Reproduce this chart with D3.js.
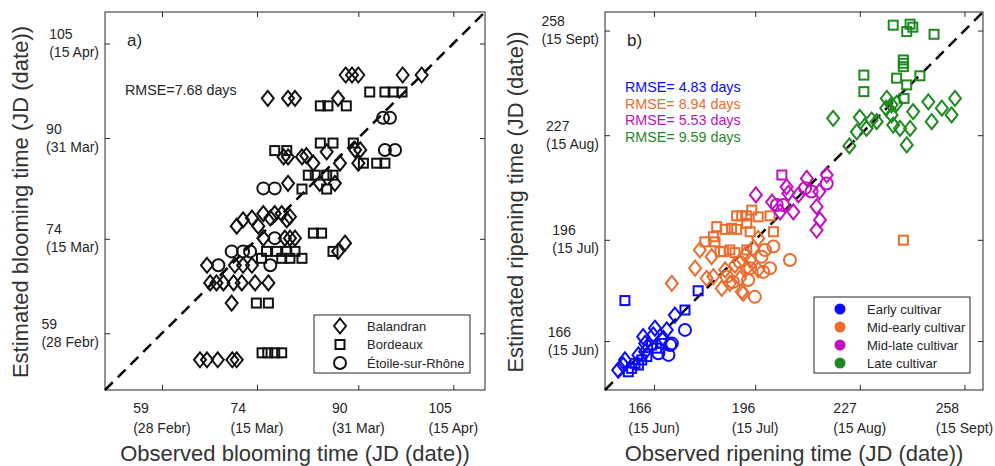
<!DOCTYPE html>
<meta charset="utf-8">
<style>
  body { margin: 0; background: #fff; }
  svg text { font-family: "Liberation Sans", Arial, sans-serif; fill: #262626; }
</style>
<svg width="995" height="466"></svg>
<script src="https://d3js.org/d3.v7.min.js"></script>
<script>
// ---------------- data: [observed JD, estimated JD] ----------------
// a) blooming, by site
const bloomBalandran = [
  [88,100],[89,100],[90,100],[97,100],[100,100],
  [75.7,96.3],[78.9,96.3],[80,96.3],[86.8,96.3],
  [78.2,87],[78.9,87],[81.1,87],[81.8,87.2],[82.9,86],[85,87.8],[87.1,86],[89.5,88.1],[90.3,88.1],[90,86],
  [83.9,82.8],[86.3,82.8],[78.9,82.8],
  [70.8,76],[71.8,77],[73.2,77.3],[74.2,76],[75,78],[76.1,77.3],[76.8,78],[77.9,78],[78.7,77],[79.2,77.5],
  [75,74.1],[78.4,74.1],[79.2,74.1],[80,74.1],[86.8,72],[87.9,73.3],
  [66.1,69.8],[70.5,69.8],[71.8,69.8],[73.2,69.8],
  [66.6,67],[67.6,67],[68.7,67],[70.3,67],[71.6,67],[73.7,67],[75.8,67],
  [70,63.8],
  [65,54.8],[66.1,54.8],[67.8,54.8],[70.1,54.8],[70.8,54.8]
]
const bloomBordeaux = [
  [84,95.1],[85.2,95.1],[88.1,95.1],[91.8,97.3],[94.2,97.3],[95.5,97.3],[96.9,97.3],
  [76.8,88],[78.7,88],[84,89.2],[86,89.2],[89.2,89.2],[90.8,86],[92.9,86],[94.2,86],
  [82.1,84.1],[83.2,84.1],[85,84.1],[86,84.1],[85,81.9],[81.1,81.9],
  [82.9,74.9],[84.2,74.9],
  [75.5,72],[77.1,72],[78.7,72],[80,72],[74.7,70.9],[77.9,70.9],[79.2,70.9],[81.1,70.9],[86,72],
  [73.9,63.8],[75.8,63.8],
  [74.8,55.9],[75.7,55.9],[76.8,55.9],[77.9,55.9]
]
const bloomEtoile = [
  [93.9,93.2],[95,93.2],[94.2,88.1],[95.8,88.1],[75,82],[76.8,82],[76.8,74.1],
  [70,72],[71.8,72],[72.9,72],[67.9,69.8],[76.1,69.8]
]

// b) ripening, by cultivar group and site
const earlyBalandran = [
  [172.2,173.7],[166.3,169.8],[165.8,167.8],[162.8,167.3],[163.4,165.3],[169.8,169.3],
  [168.8,166.8],[157.4,160.4],[155.4,157.4],[156.9,158.9],[161.4,161.9],[163.4,162.8]
]
const earlyBordeaux = [
  [157.4,178],[179.1,180.9],[175.2,175.2],[165.3,164.8],[166.8,163.9],[168.3,165.3],
  [160.4,159.4],[159.4,157.9],[161.4,158.9],[162.4,160.4],[163.9,161.4],[158.4,156.9]
]
const earlyEtoile = [
  [175.2,169.3],[170.8,164.8],[170.3,161.9],[167.3,162.4],[171.3,165.3]
]
const midEarlyBalandran = [
  [179.6,193],[183.1,191],[178.2,187.6],[171.3,183.1],[181.6,184.6],[186.1,181.6],
  [192.5,180.2],[188.5,183.1],[193.5,187.6],[195.4,193.5],[196.9,187.1],[191.5,184.6],
  [196.9,196.4],[194.5,190],[183.6,185.1],[192,180.6],[190,188.5],[187.1,187.1],[193,191.5]
]
const midEarlyBordeaux = [
  [190.5,203.1],[192,203.1],[193.5,203.1],[195,204.8],[196.9,202.8],[200.4,203.1],
  [184.6,199.9],[187.1,199.1],[189,199.4],[190.5,199.1],[193.5,200.9],[201.4,198.4],
  [181.1,195.4],[184.1,195.4],[185.6,192.5],[186.6,192.5],[190,192.2],[193.5,193],
  [183.6,196.9],[194.5,198.4],[188.5,193],[239.9,195.9]
]
const midEarlyEtoile = [
  [201.4,194],[206.3,190],[198.4,186.5],[200.4,187.6],[195.9,179.1],[197.9,191],
  [187.6,185.1],[194.5,187.6],[191.5,189.4],[198.9,193],[189.4,183.5],[193.9,184.1]
]
const midLateBalandran = [
  [196.2,209.3],[201,207.2],[205.3,211.7],[205.8,209.8],[203.4,204.3],[207.3,204.3],
  [208.8,209.3],[211.3,214.2],[215,210.3],[217.2,215.2],[214.2,205.8],[215.2,201.9],[214.2,198.9]
]
const midLateBordeaux = [[203.9,215.2]]
const midLateEtoile = [
  [202.4,206.3],[204.3,206.3],[210.8,211.3],[212.7,210.3],[217.2,212.7]
]
const lateBalandran = [
  [219.1,232],[227,232.3],[226.1,228],[229,229],[230.5,231.5],[232,231],[223.9,223.8],
  [235,237.9],[234.8,235],[236.4,236],[237.9,236.4],[236.4,233],[236.9,230],[238.9,229],
  [241.9,229],[242.8,234],[240.9,224.1],[247.3,236.9],[248.3,231],[251.3,235],[254.2,233],[255.2,237.9]
]
const lateBordeaux = [
  [236.9,259.6],[241.9,259.9],[242.7,259],[240.9,257.7],[249,256.9],
  [239.9,249.3],[239.9,248.3],[239.9,247.3],[228.2,244.8],[228.2,239.9],
  [237.9,243.9],[240.9,241.9],[244.8,244.6],[240.1,237.9]
]
const lateEtoile = []

const bloomTicks = [59, 74, 90, 105]
const bloomTickDates = ["(28 Febr)", "(15 Mar)", "(31 Mar)", "(15 Apr)"]
const ripenTicks = [166, 196, 227, 258]
const ripenTickDates = ["(15 Jun)", "(15 Jul)", "(15 Aug)", "(15 Sept)"]

const siteNames = ["Balandran", "Bordeaux", "Étoile-sur-Rhône"]
const groupNames = ["Early cultivar", "Mid-early cultivar", "Mid-late cultivar", "Late cultivar"]
const groupColors = ["#0a0aff", "#eb6d2e", "#c010c0", "#1f8a1f"]
const ripenRmse = ["RMSE= 4.83 days", "RMSE= 8.94 days", "RMSE= 5.53 days", "RMSE= 9.59 days"]

// ====================================================================
const svg = d3.select("svg")

const diamondPath = "M0,-7.5L6,0L0,7.5L-6,0Z"

const drawMarker = (g, shape, color) => {
  if (shape === "diamond") {
    g.append("path").attr("d", diamondPath)
  } else if (shape === "square") {
    g.append("rect").attr("x", -4.5).attr("y", -4.5).attr("width", 9).attr("height", 9)
  } else {
    g.append("circle").attr("r", 6)
  }
  g.selectAll("*").attr("fill", "none").attr("stroke", color).attr("stroke-width", 2)
}

const panel = (left, top, right, bottom, domain, ticks, dates) => {
  const x = d3.scaleLinear().domain(domain).range([left, right])
  const y = d3.scaleLinear().domain(domain).range([bottom, top])
  const g = svg.append("g")

  // ticks on all four sides, pointing inwards
  g.append("g").attr("transform", `translate(0,${bottom})`)
    .call(d3.axisBottom(x).tickValues(ticks).tickSize(-5).tickFormat(""))
  g.append("g").attr("transform", `translate(0,${top})`)
    .call(d3.axisTop(x).tickValues(ticks).tickSize(-5).tickFormat(""))
  g.append("g").attr("transform", `translate(${left},0)`)
    .call(d3.axisLeft(y).tickValues(ticks).tickSize(-5).tickFormat(""))
  g.append("g").attr("transform", `translate(${right},0)`)
    .call(d3.axisRight(y).tickValues(ticks).tickSize(-5).tickFormat(""))
  g.selectAll(".domain").remove()
  g.selectAll(".tick line").attr("stroke", "#262626")

  g.append("rect")
    .attr("x", left).attr("y", top)
    .attr("width", right - left).attr("height", bottom - top)
    .attr("fill", "none").attr("stroke", "#262626").attr("stroke-width", 1)

  // two-line tick labels: left aligned lines, block centred on tick
  ticks.forEach((t, i) => {
    const tx = g.append("text").attr("font-size", 14)
    const a = tx.append("tspan").attr("y", bottom + 23).text(t)
    const b = tx.append("tspan").attr("y", bottom + 43).text(dates[i])
    const w = Math.max(a.node().getComputedTextLength(), b.node().getComputedTextLength())
    a.attr("x", x(t) - w / 2)
    b.attr("x", x(t) - w / 2)

    const ty = g.append("text").attr("font-size", 14)
    const c = ty.append("tspan").attr("y", y(t) - 4.5).attr("x", 0).text(t)
    const d = ty.append("tspan").attr("y", y(t) + 13.5).attr("x", 0).text(dates[i])
    const w2 = Math.max(c.node().getComputedTextLength(), d.node().getComputedTextLength())
    c.attr("x", left - 6 - w2)
    d.attr("x", left - 6 - w2)
  })

  // 1:1 line
  g.append("line")
    .attr("x1", x(domain[0])).attr("y1", y(domain[0]))
    .attr("x2", x(domain[1])).attr("y2", y(domain[1]))
    .attr("stroke", "#000").attr("stroke-width", 2.5)
    .attr("stroke-dasharray", "11,7")

  return { g, x, y }
}

const plotPoints = (p, data, shape, color) => {
  p.g.append("g").selectAll("g")
    .data(data)
    .enter()
    .append("g")
    .attr("transform", (d) => `translate(${p.x(d[0])},${p.y(d[1])})`)
    .each(function () { drawMarker(d3.select(this), shape, color) })
}

// ---------------- a) blooming ----------------
const pa = panel(105, 12, 485, 390, [50, 110], bloomTicks, bloomTickDates)
plotPoints(pa, bloomBalandran, "diamond", "#111")
plotPoints(pa, bloomBordeaux, "square", "#111")
plotPoints(pa, bloomEtoile, "circle", "#111")

svg.append("text").attr("x", 127).attr("y", 46).attr("font-size", 17).text("a)")
svg.append("text").attr("x", 125).attr("y", 95).attr("font-size", 14.3).text("RMSE=7.68 days")

// legend a)
const la = svg.append("g")
la.append("rect").attr("x", 314).attr("y", 315).attr("width", 156).attr("height", 58)
  .attr("fill", "#fff").attr("stroke", "#262626")
siteNames.forEach((name, i) => {
  const cy = 326 + i * 18.5
  drawMarker(la.append("g").attr("transform", `translate(340,${cy})`),
    ["diamond", "square", "circle"][i], "#111")
  la.append("text").attr("x", 367).attr("y", cy + 4.5).attr("font-size", 13).text(name)
})

svg.append("text").attr("x", 295).attr("y", 461).attr("text-anchor", "middle")
  .attr("font-size", 22).style("fill", "#333").text("Observed blooming time (JD (date))")
svg.append("text").attr("transform", "translate(28,202) rotate(-90)").attr("text-anchor", "middle")
  .attr("font-size", 22).style("fill", "#333").text("Estimated blooming time (JD (date))")

// ---------------- b) ripening ----------------
const pb = panel(605, 12, 983, 390, [151.5, 263.5], ripenTicks, ripenTickDates)
const groups = [
  [earlyBalandran, earlyBordeaux, earlyEtoile],
  [midEarlyBalandran, midEarlyBordeaux, midEarlyEtoile],
  [midLateBalandran, midLateBordeaux, midLateEtoile],
  [lateBalandran, lateBordeaux, lateEtoile]
]
groups.forEach((sets, i) => {
  plotPoints(pb, sets[0], "diamond", groupColors[i])
  plotPoints(pb, sets[1], "square", groupColors[i])
  plotPoints(pb, sets[2], "circle", groupColors[i])
})

svg.append("text").attr("x", 627).attr("y", 46).attr("font-size", 17).text("b)")
ripenRmse.forEach((t, i) => {
  svg.append("text").attr("x", 625).attr("y", 92 + i * 16.7)
    .attr("font-size", 14.3).style("fill", groupColors[i]).text(t)
})

// legend b)
const lb = svg.append("g")
lb.append("rect").attr("x", 814).attr("y", 297).attr("width", 156).attr("height", 76)
  .attr("fill", "#fff").attr("stroke", "#262626")
groupNames.forEach((name, i) => {
  const cy = 309 + i * 18
  lb.append("circle").attr("cx", 840).attr("cy", cy).attr("r", 5.5).attr("fill", groupColors[i])
  lb.append("text").attr("x", 867).attr("y", cy + 4.5).attr("font-size", 13).text(name)
})

svg.append("text").attr("x", 794).attr("y", 461).attr("text-anchor", "middle")
  .attr("font-size", 22).style("fill", "#333").text("Observed ripening time (JD (date))")
svg.append("text").attr("transform", "translate(523,202) rotate(-90)").attr("text-anchor", "middle")
  .attr("font-size", 22).style("fill", "#333").text("Estimated ripening time (JD (date))")
</script>
